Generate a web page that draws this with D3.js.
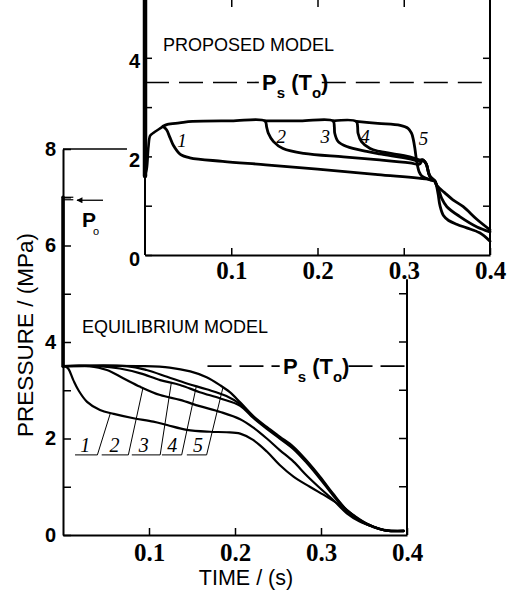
<!DOCTYPE html>
<html lang="en">
<head>
<meta charset="UTF-8">
<title>Pressure history: proposed vs equilibrium model</title>
<style>
  html, body { margin: 0; background: #fff; }
  svg { display: block; }
  .curve { fill: none; stroke: #000; stroke-linejoin: round; stroke-linecap: round; }
  .axis path, .axis line { stroke: #000; }
  .sans { font-family: "Liberation Sans", Arial, sans-serif; }
  .serif { font-family: "Liberation Serif", "Times New Roman", serif; }
</style>
</head>
<body>
<svg width="513" height="594"></svg>
<script src="https://d3js.org/d3.v7.min.js"></script>
<script>

// ---- data (time in s, pressure in MPa) ----
const timeTicks = [0.1, 0.2, 0.3, 0.4];
const topPressureTicks = [0, 1, 2, 3, 4];
const bottomPressureTicks = [0, 1, 2, 3, 4, 5, 6, 7, 8];
const curveNames = ["1", "2", "3", "4", "5"];
const psat = 3.5;   // Ps(To)
const p0 = 7;       // initial pressure Po

// proposed model (top panel)
const topInitial = [[0, 5.2], [0, 1.6]];
const topRise = [[0, 1.62], [0.002, 1.75], [0.004, 2.2], [0.006, 2.42], [0.01, 2.48], [0.016, 2.55], [0.021, 2.61]];
const topCurve1 = [[0.021, 2.61], [0.025, 2.54], [0.029, 2.38], [0.033, 2.22], [0.041, 2.04], [0.052, 1.97], [0.09, 1.9],
  [0.14, 1.83], [0.2, 1.74], [0.27, 1.63], [0.33, 1.53], [0.336, 1.5], [0.338, 1.4], [0.34, 1.22], [0.342, 1.0],
  [0.346, 0.8], [0.352, 0.7], [0.362, 0.62], [0.373, 0.55], [0.388, 0.45], [0.4, 0.28]];
const topCurve2 = [[0.021, 2.61], [0.026, 2.65], [0.04, 2.68], [0.055, 2.71], [0.1, 2.72], [0.139, 2.72], [0.141, 2.6],
  [0.143, 2.47], [0.149, 2.3], [0.16, 2.16], [0.184, 2.06], [0.23, 1.99], [0.272, 1.93], [0.307, 1.87], [0.318, 1.84],
  [0.322, 1.92], [0.326, 1.85], [0.33, 1.62], [0.336, 1.5], [0.338, 1.42], [0.341, 1.3], [0.344, 1.15], [0.35, 0.98],
  [0.365, 0.78], [0.385, 0.57], [0.4, 0.47]];
const topCurve3 = [[0.139, 2.72], [0.18, 2.72], [0.218, 2.72], [0.2195, 2.6], [0.22, 2.47], [0.224, 2.3], [0.234, 2.2],
  [0.257, 2.1], [0.272, 2.05], [0.307, 1.95], [0.318, 1.9], [0.322, 1.93], [0.326, 1.85], [0.33, 1.6], [0.336, 1.5],
  [0.338, 1.42], [0.341, 1.36], [0.347, 1.27], [0.357, 1.12], [0.369, 0.98], [0.385, 0.72], [0.4, 0.51]];
const topCurve4 = [[0.218, 2.72], [0.245, 2.71], [0.2465, 2.6], [0.247, 2.47], [0.251, 2.3], [0.261, 2.16], [0.272, 2.1],
  [0.307, 1.99], [0.318, 1.93], [0.322, 1.93], [0.326, 1.85], [0.33, 1.6], [0.336, 1.5], [0.338, 1.42]];
const topCurve5 = [[0.245, 2.71], [0.27, 2.67], [0.296, 2.63], [0.305, 2.57], [0.309, 2.47], [0.311, 2.35], [0.313, 2.15],
  [0.315, 1.9], [0.318, 1.68], [0.321, 1.6], [0.33, 1.53], [0.336, 1.5]];
const topLabelPos = [[0.043, 2.19], [0.158, 2.27], [0.209, 2.27], [0.255, 2.27], [0.323, 2.23]];

// equilibrium model (bottom panel)
const botInitial = [[0, p0], [0, psat]];
const botCurve1 = [[0, 3.5], [0.002, 3.5], [0.006, 3.45], [0.012, 3.21], [0.018, 3.0], [0.028, 2.76], [0.043, 2.59],
  [0.059, 2.51], [0.082, 2.42], [0.105, 2.35], [0.121, 2.28], [0.144, 2.18], [0.171, 2.14], [0.19, 2.13], [0.206, 2.1],
  [0.221, 1.97], [0.237, 1.73], [0.252, 1.45], [0.268, 1.21], [0.287, 1.0], [0.307, 0.79], [0.322, 0.62], [0.338, 0.41],
  [0.353, 0.24], [0.369, 0.12], [0.376, 0.09], [0.396, 0.09]];
const botCurve2 = [[0, 3.5], [0.031, 3.5], [0.051, 3.42], [0.07, 3.25], [0.09, 3.07], [0.113, 2.9], [0.136, 2.8],
  [0.159, 2.67], [0.183, 2.55], [0.206, 2.4], [0.221, 2.23], [0.237, 2.0], [0.252, 1.76], [0.268, 1.52], [0.283, 1.24],
  [0.299, 0.97], [0.314, 0.73], [0.33, 0.45], [0.345, 0.28], [0.361, 0.17], [0.376, 0.1], [0.396, 0.09]];
const botCurve3 = [[0, 3.5], [0.043, 3.5], [0.066, 3.45], [0.09, 3.35], [0.113, 3.21], [0.136, 3.11], [0.159, 2.96],
  [0.183, 2.83], [0.206, 2.68], [0.221, 2.43], [0.237, 2.2], [0.252, 2.0], [0.268, 1.78], [0.283, 1.5], [0.299, 1.16],
  [0.314, 0.82], [0.33, 0.5], [0.345, 0.3], [0.361, 0.16], [0.376, 0.09], [0.396, 0.08]];
const botCurve4 = [[0, 3.5], [0.074, 3.5], [0.097, 3.42], [0.121, 3.28], [0.144, 3.14], [0.167, 3.02], [0.19, 2.88],
  [0.206, 2.71], [0.221, 2.45], [0.237, 2.22], [0.252, 2.02], [0.268, 1.8], [0.283, 1.53], [0.299, 1.19], [0.314, 0.84],
  [0.33, 0.51], [0.345, 0.3], [0.361, 0.17], [0.376, 0.09], [0.396, 0.08]];
const botCurve5 = [[0, 3.5], [0.093, 3.5], [0.124, 3.47], [0.148, 3.39], [0.167, 3.27], [0.183, 3.1], [0.194, 2.96],
  [0.206, 2.75], [0.221, 2.47], [0.237, 2.24], [0.252, 2.04], [0.268, 1.83], [0.283, 1.55], [0.299, 1.21], [0.314, 0.86],
  [0.33, 0.52], [0.345, 0.31], [0.361, 0.17], [0.376, 0.09], [0.396, 0.08]];
const botLabelPos = [[0.026, 1.72], [0.06, 1.72], [0.094, 1.72], [0.127, 1.72], [0.157, 1.72]];
const botLeaderBase = [[0.014, 0.040], [0.045, 0.076], [0.080, 0.113], [0.115, 0.138], [0.144, 0.167]];
const botLeaderTip = [[0.055, 2.52], [0.093, 3.05], [0.126, 3.16], [0.155, 3.08], [0.186, 3.06]];
const leaderLevel = 1.66;

// ---- scales ----
const svg = d3.select("svg");
const xTop = d3.scaleLinear().domain([0, 0.4]).range([145, 490]);
const yTop = d3.scaleLinear().domain([0, 5]).range([255, 8.5]);
const xBot = d3.scaleLinear().domain([0, 0.4]).range([63, 407]);
const yBot = d3.scaleLinear().domain([0, 8]).range([535, 149]);

const lineTop = d3.line().x(d => xTop(d[0])).y(d => yTop(d[1])).curve(d3.curveCatmullRom.alpha(0.5));
const lineBot = d3.line().x(d => xBot(d[0])).y(d => yBot(d[1])).curve(d3.curveCatmullRom.alpha(0.5));
const straightBot = d3.line().x(d => xBot(d[0])).y(d => yBot(d[1]));
const straightTop = d3.line().x(d => xTop(d[0])).y(d => yTop(d[1]));

svg.append("defs").append("marker")
    .attr("id", "arrow").attr("viewBox", "0 0 10 10")
    .attr("refX", 9).attr("refY", 5)
    .attr("markerWidth", 8).attr("markerHeight", 6)
    .attr("markerUnits", "userSpaceOnUse")
    .attr("orient", "auto")
  .append("path").attr("d", "M0,0L10,5L0,10z").attr("fill", "#000");

// ================= bottom panel: equilibrium model =================
const bot = svg.append("g");

const botLeft = bot.append("g").attr("class", "axis")
    .attr("transform", "translate(" + xBot(0) + ",0)")
    .call(d3.axisLeft(yBot).tickValues(bottomPressureTicks).tickSize(-8).tickSizeOuter(0).tickPadding(7)
      .tickFormat(d => d % 2 ? "" : d));
botLeft.select(".domain").attr("stroke-width", 2);
botLeft.selectAll(".tick line").attr("stroke-width", 1.5);
botLeft.selectAll("text").attr("class", "sans").attr("font-size", 20).attr("font-weight", "bold");

const botBottom = bot.append("g").attr("class", "axis")
    .attr("transform", "translate(0," + yBot(0) + ")")
    .call(d3.axisBottom(xBot).tickValues(timeTicks).tickSize(-7).tickSizeOuter(0).tickPadding(8)
      .tickFormat(d3.format(".1f")));
botBottom.select(".domain").attr("stroke-width", 2);
botBottom.selectAll(".tick line").attr("stroke-width", 1.5);
botBottom.selectAll("text").attr("class", "serif").attr("font-size", 25).attr("font-weight", "bold");

// partial frame: top edge stub and right edge below the inset
bot.append("path").attr("fill", "none").attr("stroke", "#000").attr("stroke-width", 1.5)
    .attr("d", straightBot([[0, 8], [0.0744, 8]]));
bot.append("path").attr("fill", "none").attr("stroke", "#000").attr("stroke-width", 2)
    .attr("d", straightBot([[0.4, 5.3], [0.4, 0]]));
bot.selectAll(".rtick").data([1, 2, 3, 4, 5]).join("line")
    .attr("x1", xBot(0.4)).attr("x2", xBot(0.4) - 8)
    .attr("y1", d => yBot(d)).attr("y2", d => yBot(d))
    .attr("stroke", "#000").attr("stroke-width", 1.5);

// initial pressure Po
bot.append("path").attr("class", "curve").attr("stroke-width", 3.5).attr("stroke-linecap", "butt")
    .attr("d", straightBot(botInitial));
bot.selectAll(".p0mark").data([0, 2.5]).join("line")
    .attr("x1", xBot(0)).attr("x2", xBot(0.012))
    .attr("y1", d => yBot(p0) + d).attr("y2", d => yBot(p0) + d)
    .attr("stroke", "#000").attr("stroke-width", 1.2);
bot.append("line")
    .attr("x1", xBot(0.0465)).attr("x2", xBot(0.0163))
    .attr("y1", yBot(p0) + 3).attr("y2", yBot(p0) + 3)
    .attr("stroke", "#000").attr("stroke-width", 1.3)
    .attr("marker-end", "url(#arrow)");
const p0Label = bot.append("text").attr("class", "sans").attr("font-size", 21).attr("font-weight", "bold")
    .attr("x", 82).attr("y", 227);
p0Label.append("tspan").text("P");
p0Label.append("tspan").attr("font-size", 11).attr("font-weight", "normal")
    .attr("dx", -3).attr("dy", 8).text("o");

// curves
[botCurve1, botCurve2, botCurve3, botCurve4, botCurve5].forEach(c => {
  bot.append("path").attr("class", "curve").attr("stroke-width", 2.2).attr("d", lineBot(c));
});

// curve labels with leader lines
curveNames.forEach((name, i) => {
  const base = botLeaderBase[i], tip = botLeaderTip[i];
  bot.append("path").attr("fill", "none").attr("stroke", "#000").attr("stroke-width", 1)
      .attr("d", straightBot([[base[0], leaderLevel], [base[1], leaderLevel], tip]));
  bot.append("text").attr("class", "serif").attr("font-size", 20).attr("font-style", "italic")
      .attr("text-anchor", "middle")
      .attr("x", xBot(botLabelPos[i][0])).attr("y", yBot(botLabelPos[i][1])).text(name);
});

// saturation pressure reference line
bot.append("path").attr("fill", "none").attr("stroke", "#000").attr("stroke-width", 1.6)
    .attr("stroke-dasharray", "24,8")
    .attr("d", straightBot([[0.168, psat], [0.252, psat]]));
bot.append("path").attr("fill", "none").attr("stroke", "#000").attr("stroke-width", 1.6)
    .attr("stroke-dasharray", "24,8")
    .attr("d", straightBot([[0.332, psat], [0.4, psat]]));

function psLabel(g, x, y) {
  const t = g.append("text").attr("class", "sans").attr("font-weight", "bold").attr("font-size", 22)
      .attr("x", x).attr("y", y);
  t.append("tspan").text("P");
  t.append("tspan").attr("font-size", 15).attr("dy", 8).text("s");
  t.append("tspan").attr("dy", -8).text(" (T");
  t.append("tspan").attr("font-size", 15).attr("dy", 8).text("o");
  t.append("tspan").attr("dy", -8).text(")");
}
psLabel(bot, 283, yBot(psat) + 8);

bot.append("text").attr("class", "sans").attr("font-size", 18)
    .attr("x", 82).attr("y", 333).text("EQUILIBRIUM MODEL");

// axis titles
svg.append("text").attr("class", "sans").attr("font-size", 22.5)
    .attr("text-anchor", "middle")
    .attr("transform", "translate(33,335) rotate(-90)")
    .text("PRESSURE / (MPa)");
svg.append("text").attr("class", "sans").attr("font-size", 21.5)
    .attr("text-anchor", "middle")
    .attr("x", 246).attr("y", 585)
    .text("TIME / (s)");

// ================= top panel (inset): proposed model =================
const inset = svg.append("g");
inset.append("rect").attr("x", xTop(0)).attr("y", 0)
    .attr("width", xTop(0.4) - xTop(0)).attr("height", yTop(0))
    .attr("fill", "#fff");

const topLeft = inset.append("g").attr("class", "axis")
    .attr("transform", "translate(" + xTop(0) + ",0)")
    .call(d3.axisLeft(yTop).tickValues(topPressureTicks).tickSize(-7).tickSizeOuter(0).tickPadding(5)
      .tickFormat(d => d % 2 ? "" : d));
topLeft.select(".domain").remove();
topLeft.selectAll(".tick line").attr("stroke-width", 1.5);
topLeft.selectAll("text").attr("class", "sans").attr("font-size", 20).attr("font-weight", "bold")
    .attr("dy", "0.5em");

const topRight = inset.append("g").attr("class", "axis")
    .attr("transform", "translate(" + xTop(0.4) + ",0)")
    .call(d3.axisRight(yTop).tickValues([1, 2, 3, 4]).tickSize(-7).tickFormat(""));
topRight.select(".domain").remove();
topRight.selectAll(".tick line").attr("stroke-width", 1.5);

const topBottom = inset.append("g").attr("class", "axis")
    .attr("transform", "translate(0," + yTop(0) + ")")
    .call(d3.axisBottom(xTop).tickValues(timeTicks).tickSize(-7).tickSizeOuter(0).tickPadding(6)
      .tickFormat(d3.format(".1f")));
topBottom.select(".domain").attr("stroke-width", 2);
topBottom.selectAll(".tick line").attr("stroke-width", 1.5);
topBottom.selectAll("text").attr("class", "serif").attr("font-size", 25).attr("font-weight", "bold");

const topTop = inset.append("g").attr("class", "axis")
    .call(d3.axisTop(xTop).tickValues([0.1, 0.2, 0.3]).tickSize(-7).tickFormat(""));
topTop.select(".domain").remove();
topTop.selectAll(".tick line").attr("stroke-width", 1.5);

// vertical frame edges, running to the top of the picture
inset.append("line").attr("x1", xTop(0)).attr("x2", xTop(0)).attr("y1", 0).attr("y2", yTop(0))
    .attr("stroke", "#000").attr("stroke-width", 2);
inset.append("line").attr("x1", xTop(0.4)).attr("x2", xTop(0.4)).attr("y1", 0).attr("y2", yTop(0))
    .attr("stroke", "#000").attr("stroke-width", 2);

// curves
inset.append("path").attr("class", "curve").attr("stroke-width", 4.5).attr("stroke-linecap", "butt")
    .attr("d", straightTop(topInitial));
inset.append("path").attr("class", "curve").attr("stroke-width", 2.6).attr("d", lineTop(topRise));
[topCurve1, topCurve2, topCurve3, topCurve4, topCurve5].forEach(c => {
  inset.append("path").attr("class", "curve").attr("stroke-width", 2.8).attr("d", lineTop(c));
});

curveNames.forEach((name, i) => {
  inset.append("text").attr("class", "serif").attr("font-size", 19).attr("font-style", "italic")
      .attr("text-anchor", "middle")
      .attr("x", xTop(topLabelPos[i][0])).attr("y", yTop(topLabelPos[i][1])).text(name);
});

// saturation pressure reference line
inset.append("path").attr("fill", "none").attr("stroke", "#000").attr("stroke-width", 1.6)
    .attr("stroke-dasharray", "24,10")
    .attr("d", straightTop([[0, psat], [0.132, psat]]));
inset.append("path").attr("fill", "none").attr("stroke", "#000").attr("stroke-width", 1.6)
    .attr("stroke-dasharray", "24,10")
    .attr("d", straightTop([[0.205, psat], [0.4, psat]]));
psLabel(inset, 262, yTop(psat) + 8);

inset.append("text").attr("class", "sans").attr("font-size", 18)
    .attr("x", 163).attr("y", 51).text("PROPOSED MODEL");

</script>
</body>
</html>
